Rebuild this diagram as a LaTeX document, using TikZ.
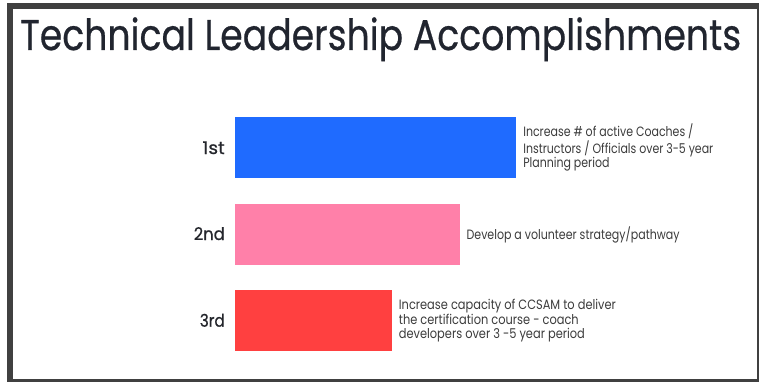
\documentclass[tikz,border=0pt]{standalone}
\usepackage{fontspec}
\usepackage{graphicx}
\setmainfont{Poppins}
\newfontfamily\heavyfam[FakeBold=0.6]{Poppins}
\definecolor{framegray}{HTML}{404040}
\definecolor{titlecol}{HTML}{21252F}
\definecolor{labelcol}{HTML}{24262C}
\definecolor{txtgray}{HTML}{3C3C3C}
\definecolor{barblue}{HTML}{1F6BFF}
\definecolor{barpink}{HTML}{FF80A9}
\definecolor{barred}{HTML}{FF4040}
\newsavebox\fitbox
\newlength\fitlen
\newcommand\fitblock[3]{\sbox\fitbox{#2}\setlength\fitlen{\wd\fitbox}\pgfmathsetmacro\fitratio{#1/\fitlen}\scalebox{\fitratio}[1]{#3}}
\newcommand\fitto[2]{\fitblock{#1}{#2}{#2}}
\newcommand\smallf{\fontsize{13.5}{13.4}\selectfont}
\newcommand\labf{\heavyfam\fontsize{17.5}{20}\selectfont}
\newcommand\titf{\heavyfam\fontsize{43}{50}\selectfont}
\tikzset{
  bar/.style={draw=none, inner sep=0pt, anchor=north west},
  rank/.style={inner sep=0pt, anchor=base east, text=labelcol},
  desc/.style={inner sep=0pt, anchor=west, text=txtgray, align=left},
  band/.style={fill=framegray, draw=none}
}
\begin{document}
\begin{tikzpicture}[x=1pt,y=-1pt]
\useasboundingbox (0,0) rectangle (759,382);
\fill[white] (0,0) rectangle (759,382);
% frame
\path[band] (7,3) rectangle (12.5,382);
\path[band] (7,3) rectangle (759,8.7);
\path[band] (757,3) rectangle (759,382);
\path[band] (7,378.7) rectangle (759,382);
% title
\node[inner sep=0pt, anchor=base west, text=titlecol] (title) at (20,50)
  {\fitto{721}{\titf Technical Leadership Accomplishments}};
% bars
\node[bar, fill=barblue, minimum width=281.7pt, minimum height=60.6pt] (b1) at (234.3,116.7) {};
\node[bar, fill=barpink, minimum width=225.2pt, minimum height=61pt] (b2) at (234.3,203.3) {};
\node[bar, fill=barred, minimum width=157.7pt, minimum height=60.7pt] (b3) at (234.3,290) {};
% ranks
\node[rank] (r1) at (225,154) {\fitto{22.3}{\labf 1st}};
\node[rank] (r2) at (225,240) {\fitto{31}{\labf 2nd}};
\node[rank] (r3) at (225,326.7) {\fitto{25}{\labf 3rd}};
% descriptions
\node[desc] (t1) at ([xshift=6.7pt,yshift=-0.5pt]b1.east)
  {\fitblock{190}{\smallf Instructors / Officials over 3-5 year}{\smallf\begin{tabular}{@{}l@{}}Increase \# of active Coaches /\\Instructors / Officials over 3-5 year\\Planning period\end{tabular}}};
\node[desc] (t2) at ([xshift=6.5pt,yshift=-1pt]b2.east)
  {\fitto{213}{\smallf Develop a volunteer strategy/pathway}};
\node[desc] (t3) at ([xshift=6.3pt,yshift=-0.6pt]b3.east)
  {\fitblock{217}{\smallf Increase capacity of CCSAM to deliver}{\smallf\begin{tabular}{@{}l@{}}Increase capacity of CCSAM to deliver\\the certification course - coach\\developers over 3 -5 year period\end{tabular}}};
\end{tikzpicture}
\end{document}
